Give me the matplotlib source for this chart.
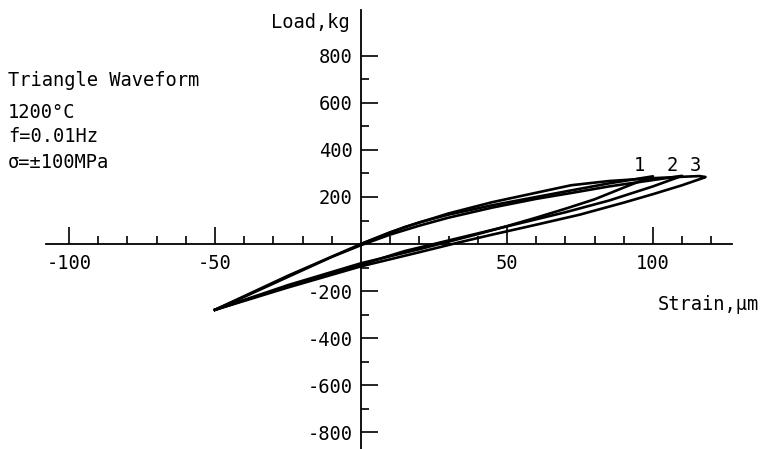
"""Load vs strain hysteresis loops, triangle waveform at 1200 C."""

import matplotlib
matplotlib.use("Agg")
import matplotlib.pyplot as plt

# loop 1: first loading from zero, then unloading
loop1_x = [0, 10, 20, 30, 45, 60, 72, 85, 100,
           92, 80, 70, 60, 50, 40, 30, 20, 10, 0, -25, -50]
loop1_y = [0, 50, 92, 125, 165, 200, 228, 258, 288,
           250, 190, 150, 112, 76, 42, 10, -22, -52, -82, -175, -280]

# loop 2: reload from the compressive tip
loop2_x = [-50, -40, -25, -10, 0, 10, 20, 30, 45, 60, 72, 85, 100, 110,
           100, 85, 70, 55, 40, 30, 15, 0, -25, -50]
loop2_y = [-280, -225, -140, -55, -5, 40, 78, 112, 155, 192, 217, 245, 272, 290,
           245, 185, 135, 90, 45, 15, -30, -88, -180, -280]

# loop 3
loop3_x = [-50, -25, 0, 15, 30, 45, 60, 72, 85, 100, 110, 116, 118, 117,
           110, 100, 90, 75, 60, 45, 33, 20, 0, -25, -50]
loop3_y = [-280, -135, 0, 72, 130, 178, 218, 250, 268, 280, 286, 289, 285, 280,
           250, 212, 176, 125, 82, 40, 5, -35, -95, -185, -280]

loop_labels = ["1", "2", "3"]
loop_label_x = [95.5, 106.5, 114.4]
loop_label_y = [336, 336, 336]

x_major = [-100, -50, 50, 100]
x_major_labels = ["-100", "-50", "50", "100"]
x_minor = [-90, -80, -70, -60, -40, -30, -20, -10,
           10, 20, 30, 40, 60, 70, 80, 90, 110, 120]

y_major = [-800, -600, -400, -200, 200, 400, 600, 800]
y_major_labels = ["-800", "-600", "-400", "-200", "200", "400", "600", "800"]
y_minor = [-700, -500, -300, -100, 100, 300, 500, 700]

notes = ["Triangle Waveform", "1200°C", "f=0.01Hz", "σ=±100MPa"]

MONO = "DejaVu Sans Mono"
FS = 13.5
W, H = 777, 449

fig = plt.figure(figsize=(W / 100, H / 100), dpi=100)
ax = fig.add_axes([0, 0, 1, 1])
ax.set_xlim(-123.6, 142.5)
ax.set_ylim(-872, 1038)

for lx, ly in [(loop1_x, loop1_y), (loop2_x, loop2_y), (loop3_x, loop3_y)]:
    ax.plot(lx, ly, color="black", lw=1.9, solid_joinstyle="round")

for lab, tx, ty in zip(loop_labels, loop_label_x, loop_label_y):
    ax.text(tx, ty, lab, family=MONO, fontsize=FS, ha="center", va="center")

# axes crossing at the origin
for side in ["top", "right"]:
    ax.spines[side].set_visible(False)
ax.spines["left"].set_position(("data", 0))
ax.spines["bottom"].set_position(("data", 0))
ax.spines["left"].set_bounds(-900, 996)
ax.spines["bottom"].set_bounds(-108, 127)
ax.spines["left"].set_linewidth(1.3)
ax.spines["bottom"].set_linewidth(1.3)

ax.set_xticks(x_major, x_major_labels)
ax.set_xticks(x_minor, minor=True)
ax.set_yticks(y_major, y_major_labels)
ax.set_yticks(y_minor, minor=True)
ax.tick_params(axis="x", which="major", direction="in", length=12, width=1.2, pad=7)
ax.tick_params(axis="x", which="minor", direction="in", length=6, width=1.2)
ax.tick_params(axis="y", which="major", direction="in", length=12, width=1.2, pad=6)
ax.tick_params(axis="y", which="minor", direction="in", length=6, width=1.2)
for t in ax.get_xticklabels() + ax.get_yticklabels():
    t.set_family(MONO)
    t.set_fontsize(FS)

fig.text(350 / W, 1 - 22 / H, "Load,kg", family=MONO, fontsize=FS,
         ha="right", va="center")
fig.text(658 / W, 1 - 304 / H, "Strain,μm", family=MONO, fontsize=FS,
         ha="left", va="center")

note_y = [81, 113, 137, 162]
for txt, py in zip(notes, note_y):
    fig.text(8 / W, 1 - py / H, txt, family=MONO, fontsize=FS,
             ha="left", va="center")

fig.savefig("out.png", dpi=100)
